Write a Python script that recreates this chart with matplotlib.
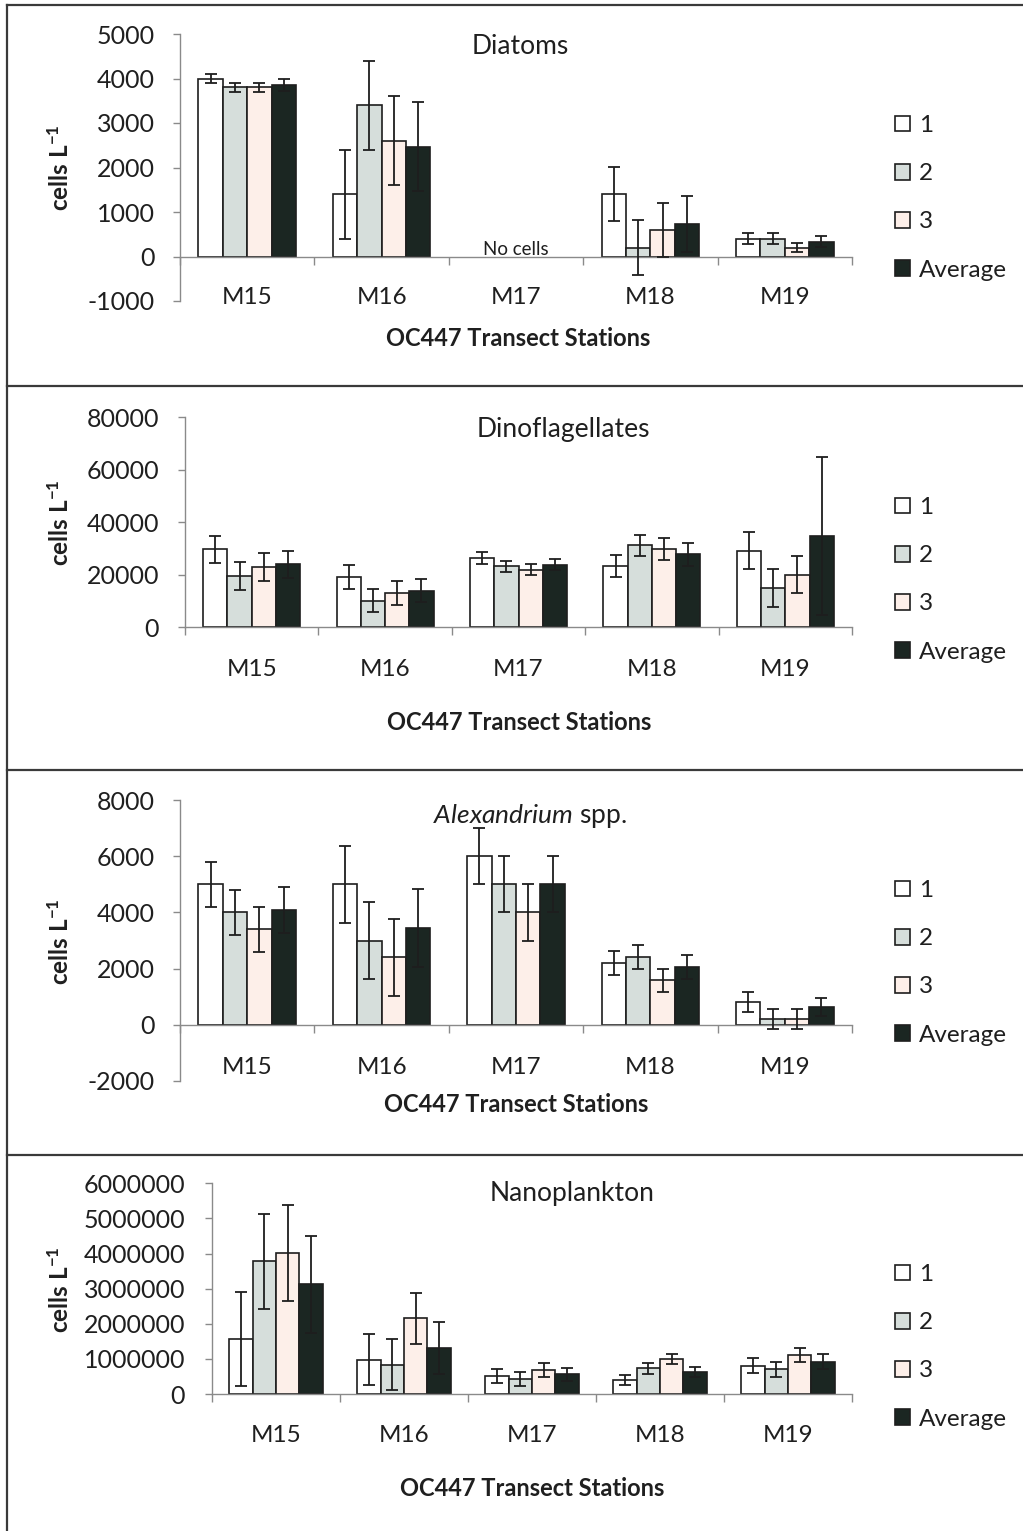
import matplotlib
matplotlib.use("Agg")
import matplotlib.pyplot as plt
import matplotlib.transforms as mtransforms
import numpy as np

plt.rcParams['font.family'] = ['Lato', 'DejaVu Sans']
plt.rcParams['mathtext.fontset'] = 'custom'
plt.rcParams['mathtext.rm'] = 'Lato'
plt.rcParams['mathtext.it'] = 'Lato:italic'
plt.rcParams['mathtext.bf'] = 'Lato:bold'

# ---------------------------------------------------------------- data
stations = ["M15", "M16", "M17", "M18", "M19"]
series_labels = ["1", "2", "3", "Average"]

diatoms_1 = [4000, 1400, 0, 1400, 400]
diatoms_2 = [3800, 3400, 0, 200, 400]
diatoms_3 = [3800, 2600, 0, 600, 200]
diatoms_avg = [3850, 2470, 0, 730, 335]
diatoms_err_1 = [100, 1000, 0, 610, 120]
diatoms_err_2 = [100, 1000, 0, 610, 120]
diatoms_err_3 = [100, 1000, 0, 610, 110]
diatoms_err_avg = [130, 1000, 0, 620, 120]

dino_1 = [29700, 19000, 26400, 23300, 29200]
dino_2 = [19500, 10200, 23200, 31200, 15000]
dino_3 = [23000, 13100, 22000, 30000, 20000]
dino_avg = [24000, 14000, 23900, 27900, 34800]
dino_err_1 = [5200, 4600, 2200, 4300, 7100]
dino_err_2 = [5200, 4500, 2200, 4100, 7200]
dino_err_3 = [5200, 4500, 2200, 4200, 7100]
dino_err_avg = [5200, 4500, 2200, 4400, 30000]

alex_1 = [5000, 5000, 6000, 2200, 800]
alex_2 = [4000, 3000, 5000, 2400, 200]
alex_3 = [3400, 2400, 4000, 1580, 200]
alex_avg = [4100, 3450, 5000, 2050, 640]
alex_err_1 = [800, 1370, 1000, 410, 350]
alex_err_2 = [800, 1370, 1000, 430, 350]
alex_err_3 = [800, 1370, 1000, 420, 350]
alex_err_avg = [820, 1380, 1000, 430, 320]

nano_1 = [1570000, 980000, 520000, 400000, 810000]
nano_2 = [3780000, 840000, 430000, 730000, 700000]
nano_3 = [4020000, 2160000, 670000, 1000000, 1120000]
nano_avg = [3120000, 1300000, 560000, 630000, 920000]
nano_err_1 = [1340000, 720000, 200000, 130000, 220000]
nano_err_2 = [1360000, 730000, 190000, 150000, 210000]
nano_err_3 = [1360000, 730000, 200000, 140000, 200000]
nano_err_avg = [1370000, 740000, 190000, 140000, 220000]

y_ticks_diatoms = [-1000, 0, 1000, 2000, 3000, 4000, 5000]
y_ticks_dino = [0, 20000, 40000, 60000, 80000]
y_ticks_alex = [-2000, 0, 2000, 4000, 6000, 8000]
y_ticks_nano = [0, 1000000, 2000000, 3000000, 4000000, 5000000, 6000000]

# ---------------------------------------------------------------- style
W, H = 1023, 1531
FACE = ["#ffffff", "#d6dedb", "#fdefe9", "#1b2622"]
EDGE = "#1e1e1e"
AXIS = "#8a8a8a"
TEXT = "#1f1f1f"

fig = plt.figure(figsize=(W / 100, H / 100), dpi=100)


def fy(y):
    return 1 - y / H


def panel(x0, x1, ytop, ybot, series, errors, yticks, title, title_xy,
          label_y, xlabel_y, xlabel_x, ylabel_xy, legend_top, tick_pad,
          note=None):
    ax = fig.add_axes([x0 / W, 1 - ybot / H, (x1 - x0) / W, (ybot - ytop) / H])
    n = len(series)
    w = 1 / (n + 1.5)
    x = np.arange(len(stations))
    handles = []
    for k, (vals, errs) in enumerate(zip(series, errors)):
        vals = np.asarray(vals, float)
        errs = np.asarray(errs, float)
        shown = np.where(vals == 0, np.nan, vals)
        pos = x + (k - (n - 1) / 2) * w
        b = ax.bar(pos, shown, width=w, color=FACE[k], edgecolor=EDGE,
                   linewidth=1.2, zorder=2, label=series_labels[k])
        handles.append(b)
        ok = errs > 0
        ax.errorbar(pos[ok], vals[ok], yerr=errs[ok], fmt="none",
                    ecolor=EDGE, elinewidth=1.3, capsize=4.2, capthick=1.3,
                    zorder=3)
    ax.set_xlim(-0.5, len(stations) - 0.5)
    ax.set_ylim(yticks[0], yticks[-1])
    ax.set_yticks(yticks)
    ax.set_yticklabels([str(int(t)) for t in yticks])
    ax.set_xticks(np.arange(len(stations) + 1) - 0.5)
    ax.set_xticklabels([])
    for s in ("top", "right"):
        ax.spines[s].set_visible(False)
    ax.spines["left"].set_color(AXIS)
    ax.spines["bottom"].set_color(AXIS)
    ax.spines["left"].set_linewidth(1.0)
    ax.spines["bottom"].set_linewidth(1.0)
    ax.spines["bottom"].set_position(("data", 0))
    ax.tick_params(axis="y", direction="out", length=5, width=1.0,
                   color=AXIS, labelsize=18, labelcolor=TEXT, pad=tick_pad)
    ax.tick_params(axis="x", direction="out", length=6, width=1.0,
                   color=AXIS)
    ax.patch.set_alpha(0)

    tr = mtransforms.blended_transform_factory(ax.transData, fig.transFigure)
    for i, s in enumerate(stations):
        ax.text(i, fy(label_y), s, transform=tr, ha="center", va="center",
                fontsize=17.5, color=TEXT)

    fig.text(title_xy[0] / W, fy(title_xy[1]), title, ha="center",
             va="center", fontsize=19, color=TEXT)
    fig.text(xlabel_x / W, fy(xlabel_y), "OC447 Transect Stations",
             ha="center", va="center", fontsize=17, fontweight="bold",
             color=TEXT)
    fig.text(ylabel_xy[0] / W, fy(ylabel_xy[1]), r"cells L$^{\mathregular{-1}}$",
             ha="center", va="center", rotation=90, fontsize=17.5,
             fontweight="bold", color=TEXT)
    if note is not None:
        ax.text(note[0], note[1], note[2], ha="center", va="bottom",
                fontsize=13.5, color=TEXT)

    leg = ax.legend(handles=handles, loc="upper left",
                    bbox_to_anchor=(895 / W, fy(legend_top)),
                    bbox_transform=fig.transFigure, frameon=False,
                    fontsize=17.5, handlelength=0.62, handleheight=0.62,
                    handletextpad=0.35, labelspacing=1.12, borderpad=0,
                    borderaxespad=0)
    for t in leg.get_texts():
        t.set_color(TEXT)
    return ax


panel(180, 852, 34, 301,
      [diatoms_1, diatoms_2, diatoms_3, diatoms_avg],
      [diatoms_err_1, diatoms_err_2, diatoms_err_3, diatoms_err_avg],
      y_ticks_diatoms, "Diatoms", (520, 46), 298, 339, 518, (60, 168), 115,
      tick_pad=13, note=(2, -40, "No cells"))

panel(185, 852, 417.3, 627.3,
      [dino_1, dino_2, dino_3, dino_avg],
      [dino_err_1, dino_err_2, dino_err_3, dino_err_avg],
      y_ticks_dino, "Dinoflagellates", (563, 430), 669, 722, 519, (60, 523),
      497, tick_pad=13.7)

panel(180, 852, 800, 1081,
      [alex_1, alex_2, alex_3, alex_avg],
      [alex_err_1, alex_err_2, alex_err_3, alex_err_avg],
      y_ticks_alex, r"$\mathit{Alexandrium}$ spp.", (530, 816), 1067, 1105,
      516, (60, 942), 880, tick_pad=13)

panel(212, 852, 1183.3, 1394,
      [nano_1, nano_2, nano_3, nano_avg],
      [nano_err_1, nano_err_2, nano_err_3, nano_err_avg],
      y_ticks_nano, "Nanoplankton", (572, 1194), 1436, 1488, 532, (60, 1290),
      1264, tick_pad=14.4)

# panel frames
frame = dict(color="#3a3a3a", linewidth=1.6, transform=fig.transFigure)
fig.add_artist(plt.Line2D([7 / W, 7 / W], [fy(5), 0], **frame))
for yb in (5, 386, 770, 1155):
    fig.add_artist(plt.Line2D([7 / W, 1], [fy(yb), fy(yb)], **frame))

fig.savefig("out.png", dpi=100)
